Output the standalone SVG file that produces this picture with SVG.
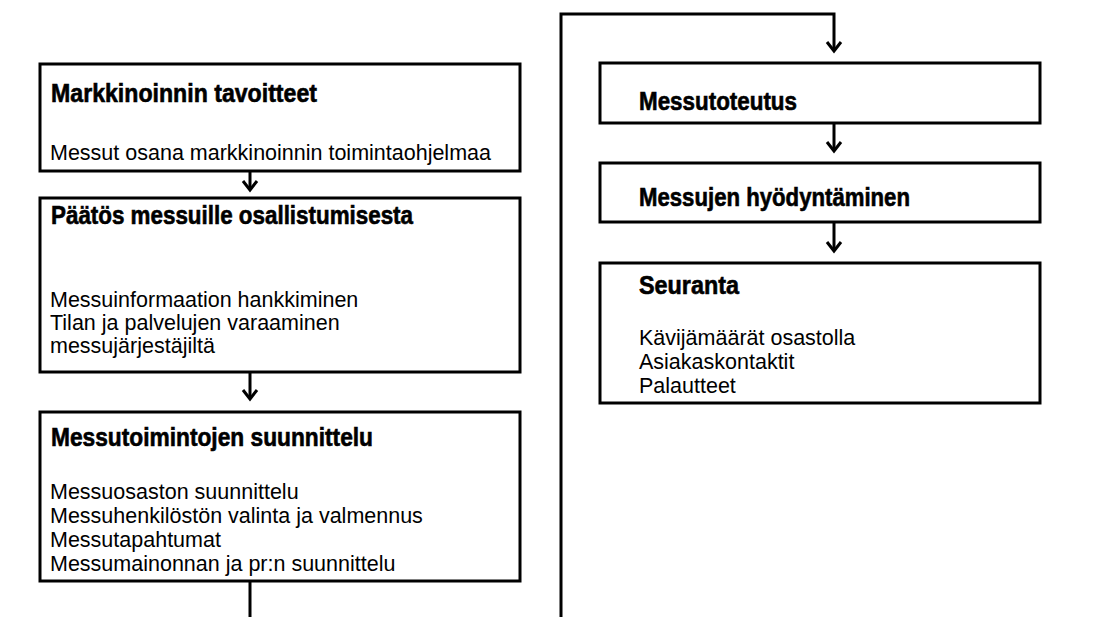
<svg xmlns="http://www.w3.org/2000/svg" width="1107" height="617" viewBox="0 0 1107 617">
  <style>
    .box { fill: #ffffff; stroke: #000000; stroke-width: 3; }
    .wire { fill: none; stroke: #000000; stroke-width: 3; }
    .title { font-family: "Liberation Sans", Arial, sans-serif; font-weight: bold; font-size: 25px; fill: #000000; stroke: #000000; stroke-width: 0.6; }
    .body { font-family: "Liberation Sans", Arial, sans-serif; font-size: 21.5px; fill: #000000; }
  </style>
  <defs>
    <!-- open V arrowhead, drawn pointing along +x and rotated with the line -->
    <marker id="chevron" viewBox="0 0 14 18" refX="11" refY="9" markerWidth="14" markerHeight="18" markerUnits="userSpaceOnUse" orient="auto">
      <polyline points="2,2 11,9 2,16" fill="none" stroke="#000000" stroke-width="3" stroke-linejoin="miter"/>
    </marker>
  </defs>
  <rect width="1107" height="617" fill="#ffffff"/>

  <g id="connectors">
    <line class="wire" x1="250" y1="171" x2="250" y2="190" marker-end="url(#chevron)"/>
    <line class="wire" x1="250" y1="372" x2="250" y2="399" marker-end="url(#chevron)"/>
    <line class="wire" x1="250" y1="581" x2="250" y2="617"/>
    <polyline class="wire" points="561,617 561,14 834,14 834,51" marker-end="url(#chevron)"/>
    <line class="wire" x1="834" y1="123" x2="834" y2="151" marker-end="url(#chevron)"/>
    <line class="wire" x1="834" y1="222" x2="834" y2="251" marker-end="url(#chevron)"/>
  </g>

  <g id="markkinoinnin-tavoitteet">
    <rect class="box" x="40" y="64" width="480" height="107"/>
    <text class="title" x="51" y="102" textLength="266" lengthAdjust="spacingAndGlyphs">Markkinoinnin tavoitteet</text>
    <text class="body" x="50" y="160">Messut osana markkinoinnin toimintaohjelmaa</text>
  </g>

  <g id="paatos">
    <rect class="box" x="40" y="198" width="480" height="174"/>
    <text class="title" x="51" y="224" textLength="362" lengthAdjust="spacingAndGlyphs">Päätös messuille osallistumisesta</text>
    <text class="body" x="50" y="307">Messuinformaation hankkiminen</text>
    <text class="body" x="50" y="330">Tilan ja palvelujen varaaminen</text>
    <text class="body" x="50" y="353">messujärjestäjiltä</text>
  </g>

  <g id="suunnittelu">
    <rect class="box" x="40" y="412" width="480" height="169"/>
    <text class="title" x="51" y="446" textLength="322" lengthAdjust="spacingAndGlyphs">Messutoimintojen suunnittelu</text>
    <text class="body" x="50" y="499">Messuosaston suunnittelu</text>
    <text class="body" x="50" y="523">Messuhenkilöstön valinta ja valmennus</text>
    <text class="body" x="50" y="547">Messutapahtumat</text>
    <text class="body" x="50" y="571">Messumainonnan ja pr:n suunnittelu</text>
  </g>

  <g id="messutoteutus">
    <rect class="box" x="600" y="63" width="440" height="60"/>
    <text class="title" x="639" y="110" textLength="158" lengthAdjust="spacingAndGlyphs">Messutoteutus</text>
  </g>

  <g id="hyodyntaminen">
    <rect class="box" x="600" y="163" width="440" height="59"/>
    <text class="title" x="639" y="206" textLength="271" lengthAdjust="spacingAndGlyphs">Messujen hyödyntäminen</text>
  </g>

  <g id="seuranta">
    <rect class="box" x="600" y="263" width="440" height="140"/>
    <text class="title" x="639" y="294" textLength="100" lengthAdjust="spacingAndGlyphs">Seuranta</text>
    <text class="body" x="639" y="345">Kävijämäärät osastolla</text>
    <text class="body" x="639" y="369">Asiakaskontaktit</text>
    <text class="body" x="639" y="393">Palautteet</text>
  </g>
</svg>
